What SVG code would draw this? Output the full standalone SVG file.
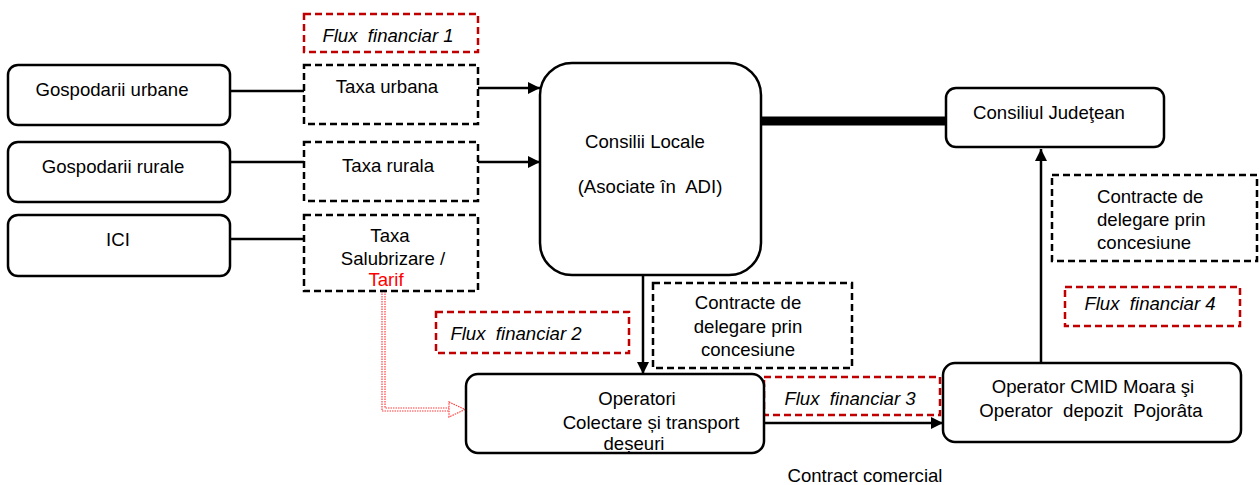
<svg xmlns="http://www.w3.org/2000/svg" width="1259" height="485" viewBox="0 0 1259 485">
<defs>
<style>
text{font-family:"Liberation Sans",Arial,sans-serif;font-size:18.6px;fill:#000;white-space:pre}
.c{text-anchor:middle}
.i{font-style:italic}
.box{fill:#fff;stroke:#000;stroke-width:2.5}
.dash{fill:none;stroke:#000;stroke-width:2.5;stroke-dasharray:7 4}
.rdash{fill:none;stroke:#c00000;stroke-width:2.5;stroke-dasharray:7 4}
.ln{fill:none;stroke:#000;stroke-width:2.5}
.red{fill:#ff0000}
.dot{fill:none;stroke:#ff3c3c;stroke-width:1.2;stroke-dasharray:1.5 1}
</style>
<marker id="ah" viewBox="0 0 12 12" refX="12" refY="6" markerWidth="12" markerHeight="12" markerUnits="userSpaceOnUse" orient="auto">
<path d="M0,0 L12,6 L0,12 Z" fill="#000"/>
</marker>
</defs>
<rect width="1259" height="485" fill="#fff"/>

<g id="connectors">
<line class="ln" x1="230" y1="91" x2="304" y2="91"/>
<line class="ln" x1="230" y1="162" x2="304" y2="162"/>
<line class="ln" x1="230" y1="239" x2="304" y2="239"/>
<line class="ln" x1="478" y1="88" x2="540" y2="88" marker-end="url(#ah)"/>
<line class="ln" x1="478" y1="162" x2="540" y2="162" marker-end="url(#ah)"/>
<line x1="761" y1="121" x2="946" y2="121" stroke="#000" stroke-width="9"/>
<line class="ln" x1="643" y1="275" x2="643" y2="374" marker-end="url(#ah)"/>
<line class="ln" x1="764" y1="423" x2="943" y2="423" marker-end="url(#ah)"/>
<line class="ln" x1="1041" y1="363" x2="1041" y2="149" marker-end="url(#ah)"/>
<path class="dot" d="M382,291 V411 H449"/>
<path class="dot" d="M385,291 V408 H449"/>
<path class="dot" d="M449,402 L465,409.5 L449,417 Z"/>
</g>

<g id="flux1"><rect class="rdash" x="304" y="14" width="174" height="38"/><text class="c i" x="388" y="42">Flux  financiar 1</text></g>
<g id="flux2"><rect class="rdash" x="436" y="312" width="193" height="41"/><text class="c i" x="516" y="340">Flux  financiar 2</text></g>
<g id="flux3"><rect class="rdash" x="764" y="377" width="176" height="38"/><text class="c i" x="850" y="405">Flux  financiar 3</text></g>
<g id="flux4"><rect class="rdash" x="1065" y="287" width="175" height="39"/><text class="c i" x="1150" y="310">Flux  financiar 4</text></g>

<g id="gosp-urbane"><rect class="box" x="8" y="65" width="222" height="60" rx="10"/><text class="c" x="112" y="96">Gospodarii urbane</text></g>
<g id="gosp-rurale"><rect class="box" x="8" y="142" width="222" height="60" rx="10"/><text class="c" x="113" y="173">Gospodarii rurale</text></g>
<g id="ici"><rect class="box" x="8" y="215" width="222" height="61" rx="10"/><text class="c" x="118" y="246">ICI</text></g>

<g id="taxa-urbana"><rect class="dash" x="304" y="65" width="174" height="59"/><text class="c" x="387" y="93">Taxa urbana</text></g>
<g id="taxa-rurala"><rect class="dash" x="304" y="142" width="174" height="59"/><text class="c" x="388" y="172">Taxa rurala</text></g>
<g id="taxa-salubrizare"><rect class="dash" x="304" y="215" width="174" height="76"/>
<text class="c" x="390" y="242">Taxa</text>
<text class="c" x="393" y="265">Salubrizare /</text>
<text class="c red" x="386" y="286">Tarif</text></g>

<g id="consilii-locale"><rect class="box" x="540" y="63" width="221" height="212" rx="32"/>
<text class="c" x="645" y="148">Consilii Locale</text>
<text class="c" x="650" y="193">(Asociate în  ADI)</text></g>

<g id="consiliul-judetean"><rect class="box" x="946" y="88" width="218" height="59" rx="10"/><text class="c" x="1049" y="119">Consiliul Judeţean</text></g>

<g id="contracte-mid"><rect class="dash" x="653" y="283" width="199" height="85"/>
<text class="c" x="748" y="309">Contracte de</text>
<text class="c" x="748" y="333">delegare prin</text>
<text class="c" x="748" y="356">concesiune</text></g>

<g id="contracte-right"><rect class="dash" x="1052" y="175" width="205" height="86"/>
<text x="1097" y="203">Contracte de</text>
<text x="1097" y="226">delegare prin</text>
<text x="1097" y="249">concesiune</text></g>

<g id="operatori"><rect class="box" x="466" y="374" width="298" height="79" rx="12"/>
<text class="c" x="637" y="405">Operatori</text>
<text class="c" x="651" y="429">Colectare și transport</text>
<text class="c" x="634" y="450">deșeuri</text></g>

<g id="operator-cmid"><rect class="box" x="943" y="363" width="298" height="79" rx="12"/>
<text class="c" x="1093" y="393">Operator CMID Moara şi</text>
<text class="c" x="1091" y="417">Operator  depozit  Pojorâta</text></g>

<g id="label-contract"><text class="c" x="865" y="482">Contract comercial</text></g>
</svg>
